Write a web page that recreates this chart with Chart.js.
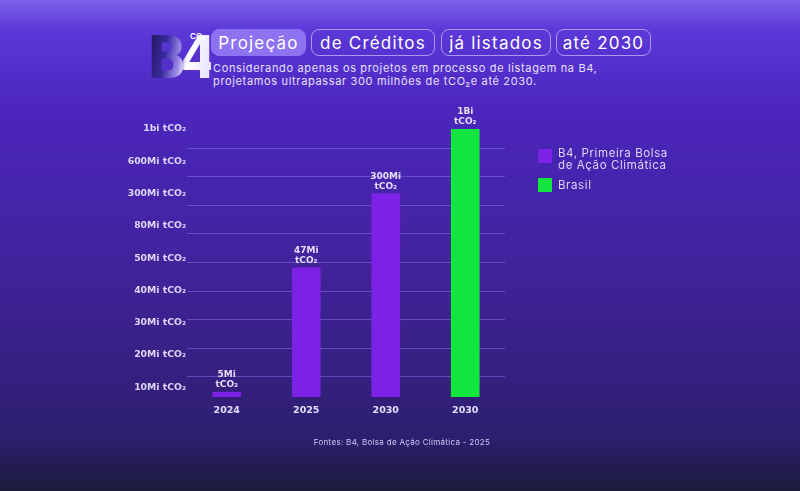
<!DOCTYPE html>
<html><head><meta charset="utf-8">
<script src="https://cdn.jsdelivr.net/npm/chart.js@4/dist/chart.umd.min.js"></script>
<style>
html,body{margin:0;padding:0;width:800px;height:491px;overflow:hidden;}
body{position:relative;font-family:Inter,"Open Sans",sans-serif;
background:linear-gradient(180deg,#7d62ea 0px,#5b38d8 30px,#4b25bd 110px,#43239f 250px,#34207e 380px,#2c1f6e 440px,#1c1b3a 491px);}
#logo{position:absolute;left:147px;top:34px;width:54px;height:56px;}
#logo .b4{position:absolute;left:0;top:-4px;font-family:"Liberation Sans Narrow","DejaVu Sans Condensed",sans-serif;font-weight:700;font-size:58px;letter-spacing:-6px;
background:linear-gradient(100deg,#1e1450 0%,#3a2aa0 30%,#9a88e8 50%,#ffffff 62%,#e4deff 100%);-webkit-background-clip:text;background-clip:text;color:transparent;line-height:56px;}
#logo .co2{position:absolute;left:43px;top:-3px;font-size:8px;color:#fff;font-weight:600;}
.pill{position:absolute;top:29px;height:27px;box-sizing:border-box;border-radius:8px;border:1px solid rgba(205,195,255,0.7);
color:#fff;font-size:17px;letter-spacing:1.2px;display:flex;align-items:center;justify-content:center;}
.pill.f{background:#8d72f2;border-color:#8d72f2;}
#sub{position:absolute;left:213px;top:62px;font-size:11px;line-height:13px;letter-spacing:0.65px;color:#e6e0ff;}
#legend{position:absolute;left:538px;top:147px;font-size:11.5px;letter-spacing:0.6px;color:#ddd6fb;line-height:12px;}
#legend .it{position:relative;padding-left:20px;}
#legend .sw{position:absolute;left:0;width:14px;height:14px;}
#foot{position:absolute;left:2px;width:800px;top:437px;text-align:center;font-size:8px;color:#cfc8f5;letter-spacing:0.3px;}
#c{position:absolute;left:0;top:0;}
</style></head>
<body>
<div id="logo"><div class="b4">B4</div><div class="co2">CO₂</div></div>
<div class="pill f" style="left:211px;width:95px;">Projeção</div>
<div class="pill" style="left:311px;width:124px;">de Créditos</div>
<div class="pill" style="left:441px;width:110px;">já listados</div>
<div class="pill" style="left:556px;width:95px;">até 2030</div>
<div id="sub">Considerando apenas os projetos em processo de listagem na B4,<br>projetamos ultrapassar 300 milhões de tCO₂e até 2030.</div>
<canvas id="c" width="800" height="491"></canvas>
<div id="legend">
 <div class="it" style="height:26px;"><span class="sw" style="top:2px;background:#7b22e6;"></span>B4, Primeira Bolsa<br>de Ação Climática</div>
 <div class="it" style="margin-top:6px;"><span class="sw" style="top:-1px;background:#12e53e;"></span>Brasil</div>
</div>
<div id="foot">Fontes: B4, Bolsa de Ação Climática - 2025</div>
<script>
// ---- data (values in millions of tCO2) ----
const categories = ['2024', '2025', '2030', '2030'];
const b4Values = [5, 47, 300, null];
const brasilValues = [null, null, null, 1000];
const seriesNames = ['B4, Primeira Bolsa de Ação Climática', 'Brasil'];
const tickValues = [10, 20, 30, 40, 50, 80, 300, 600, 1000];
const tickLabels = ['10Mi tCO₂', '20Mi tCO₂', '30Mi tCO₂', '40Mi tCO₂', '50Mi tCO₂', '80Mi tCO₂', '300Mi tCO₂', '600Mi tCO₂', '1bi tCO₂'];

// ---- custom scale: tick values evenly spaced (infographic axis) ----
const ZERO_INDEX = -0.3;
const anchorsV = [0, ...tickValues];
const anchorsI = [ZERO_INDEX, ...tickValues.map((_, i) => i)];
const IDX_MIN = ZERO_INDEX, IDX_MAX = tickValues.length - 1;
function toIndex(v) {
  if (v <= anchorsV[0]) return anchorsI[0];
  for (let k = 1; k < anchorsV.length; k++) {
    if (v <= anchorsV[k]) {
      const t = (v - anchorsV[k-1]) / (anchorsV[k] - anchorsV[k-1]);
      return anchorsI[k-1] + t * (anchorsI[k] - anchorsI[k-1]);
    }
  }
  return anchorsI[anchorsI.length-1];
}
function fromIndex(i) {
  for (let k = 1; k < anchorsI.length; k++) {
    if (i <= anchorsI[k]) {
      const t = (i - anchorsI[k-1]) / (anchorsI[k] - anchorsI[k-1]);
      return anchorsV[k-1] + t * (anchorsV[k] - anchorsV[k-1]);
    }
  }
  return anchorsV[anchorsV.length-1];
}
class TickIndexScale extends Chart.LinearScale {
  static id = 'tickIndex';
  static defaults = Chart.LinearScale.defaults;
  determineDataLimits() { this.min = 0; this.max = tickValues[tickValues.length-1]; }
  buildTicks() { return tickValues.map(v => ({ value: v })); }
  getPixelForValue(v) { return this.getPixelForDecimal((toIndex(v) - IDX_MIN) / (IDX_MAX - IDX_MIN)); }
  getValueForPixel(p) { return fromIndex(IDX_MIN + this.getDecimalForPixel(p) * (IDX_MAX - IDX_MIN)); }
}
Chart.register(TickIndexScale);

function fmt(v) { return v >= 1000 ? (v / 1000) + 'Bi' : v + 'Mi'; }

const barLabels = {
  id: 'barLabels',
  afterDatasetsDraw(chart) {
    const ctx = chart.ctx;
    ctx.save();
    ctx.fillStyle = '#e4ddff';
    ctx.font = '600 9px "DejaVu Sans", sans-serif';
    ctx.textAlign = 'center';
    ctx.textBaseline = 'alphabetic';
    chart.data.datasets.forEach((ds, di) => {
      chart.getDatasetMeta(di).data.forEach((el, i) => {
        const v = ds.data[i];
        if (v == null) return;
        ctx.fillText(fmt(v), el.x, el.y - 15);
        ctx.fillText('tCO₂', el.x, el.y - 5);
      });
    });
    ctx.restore();
  }
};

new Chart(document.getElementById('c'), {
  type: 'bar',
  data: {
    labels: categories,
    datasets: [
      { label: seriesNames[0], data: b4Values, backgroundColor: '#7b22e6', barThickness: 28, yAxisID: 'y' },
      { label: seriesNames[1], data: brasilValues, backgroundColor: '#12e53e', barThickness: 28, yAxisID: 'y' }
    ]
  },
  options: {
    responsive: false,
    animation: false,
    devicePixelRatio: 1,
    layout: { padding: { left: 87, right: 295, top: 129, bottom: 64 } },
    plugins: { legend: { display: false }, tooltip: { enabled: false } },
    scales: {
      x: {
        stacked: true,
        grid: { display: false, drawTicks: false },
        border: { display: false },
        ticks: { color: '#e4ddff', padding: 8, font: { family: '"DejaVu Sans", sans-serif', size: 9.5, weight: '600' } },
        afterFit(s) { s.height = 30; }
      },
      y: {
        type: 'tickIndex',
        stacked: true,
        position: 'left',
        grid: { display: false, drawTicks: false },
        border: { display: false },
        ticks: {
          color: '#ddd6fb', padding: 1, autoSkip: false,
          font: { family: '"DejaVu Sans", sans-serif', size: 9.3, weight: '600' },
          callback: (v) => tickLabels[tickValues.indexOf(v)]
        },
        afterFit(s) { s.width = 100; }
      },
      yGrid: {
        type: 'linear',
        position: 'left',
        min: -0.7, max: 8.67,
        ticks: { display: false, stepSize: 1 },
        border: { display: false },
        grid: { color: 'rgba(130,110,225,0.55)', lineWidth: 1, drawTicks: false },
        afterBuildTicks(s) { s.ticks = s.ticks.filter(t => Math.abs(t.value - Math.round(t.value)) < 1e-6); },
        afterFit(s) { s.width = 0; }
      }
    }
  },
  plugins: [barLabels]
});
</script>
</body></html>
